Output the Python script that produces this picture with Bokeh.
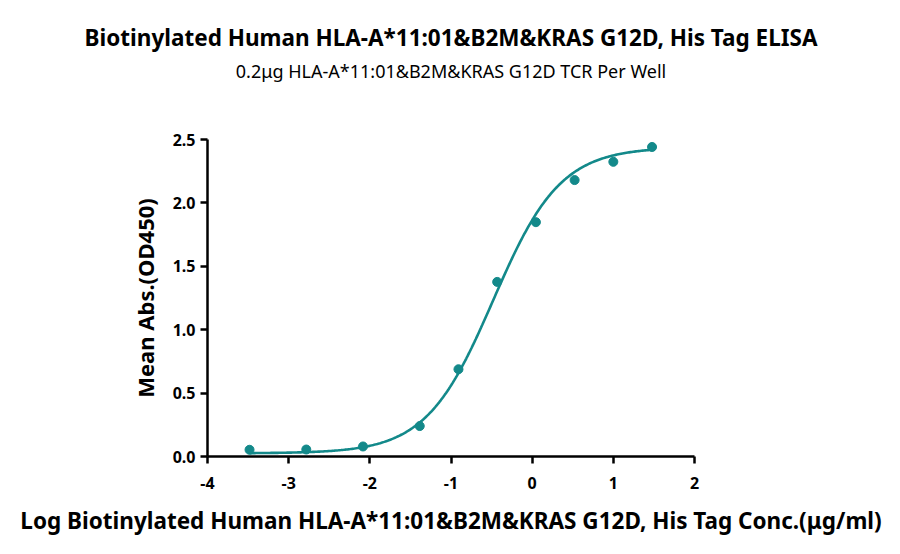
import numpy as np
from bokeh.plotting import figure
from bokeh.models import Title, FixedTicker, PrintfTickFormatter, Range1d
from bokeh.embed import file_html
from bokeh.resources import INLINE

# data
log_conc = [-3.482, -2.783, -2.084, -1.385, -0.908, -0.431, 0.046, 0.523, 1.0, 1.477]
mean_abs = [0.053, 0.055, 0.079, 0.240, 0.688, 1.377, 1.848, 2.180, 2.324, 2.441]
x_ticks = [-4, -3, -2, -1, 0, 1, 2]
y_ticks = [0.0, 0.5, 1.0, 1.5, 2.0, 2.5]

# 4-parameter logistic fit estimated from the drawn curve
BOTTOM = 0.025
TOP = 2.44
LOGEC50 = -0.48
HILL = 1.05

title_text = "Biotinylated Human HLA-A*11:01&B2M&KRAS G12D, His Tag ELISA"
subtitle_text = "0.2\u03bcg HLA-A*11:01&B2M&KRAS G12D TCR Per Well"
x_label = "Log Biotinylated Human HLA-A*11:01&B2M&KRAS G12D, His Tag Conc.(\u03bcg/ml)"
y_label = "Mean Abs.(OD450)"

TEAL = "#13898a"
FONT = "Noto Sans"

W, H = 884, 538
LEFT, TOPB, FW, FH = 207, 139, 487, 319
p = figure(width=W, height=H, output_backend="svg", toolbar_location=None,
           x_range=Range1d(-4, 2), y_range=Range1d(0, 2.5),
           min_border_left=LEFT, min_border_right=W - LEFT - FW,
           min_border_top=TOPB, min_border_bottom=H - TOPB - FH)
p.outline_line_color = None
p.grid.visible = False
p.background_fill_color = "white"
p.border_fill_color = "white"

cx = np.linspace(log_conc[0], log_conc[-1], 300)
cy = BOTTOM + (TOP - BOTTOM) / (1 + 10 ** ((LOGEC50 - cx) * HILL))
p.line(cx, cy, line_color=TEAL, line_width=2.6)
p.scatter(log_conc, mean_abs, size=9, color=TEAL)

for ax in (p.xaxis, p.yaxis):
    ax.axis_line_width = 2.5
    ax.axis_line_color = "black"
    ax.major_tick_line_width = 2.5
    ax.major_tick_line_color = "black"
    ax.major_tick_in = 0
    ax.major_tick_out = 7
    ax.minor_tick_line_color = None
    ax.major_label_text_font = FONT
    ax.major_label_text_font_style = "bold"
    ax.major_label_text_font_size = "16px"
    ax.major_label_text_color = "black"
    ax.axis_label_text_font = FONT
    ax.axis_label_text_font_style = "bold"
    ax.axis_label_text_color = "black"

p.xaxis.ticker = FixedTicker(ticks=x_ticks)
p.yaxis.ticker = FixedTicker(ticks=y_ticks)
p.xaxis.formatter = PrintfTickFormatter(format="%d")
p.yaxis.formatter = PrintfTickFormatter(format="%.1f")
p.xaxis.major_label_standoff = 13
p.yaxis.major_label_standoff = 5
p.xaxis.axis_label = x_label
p.yaxis.axis_label = y_label
p.xaxis.axis_label_text_font_size = "22.5px"
p.yaxis.axis_label_text_font_size = "22px"
p.xaxis.axis_label_standoff = 13
p.yaxis.axis_label_standoff = 10

center_offset = -(W / 2 - LEFT - FW / 2)
# stacked from the plot outward: blank spacer, subtitle, main title
spacer = Title(text=" ", text_font_size="1px", standoff=54)
sub = Title(text=subtitle_text, align="center", text_font=FONT,
            text_font_size="18px", text_font_style="normal", text_color="black",
            standoff=0, offset=center_offset)
main = Title(text=title_text, align="center", text_font=FONT,
             text_font_size="22.5px", text_font_style="bold", text_color="black",
             standoff=7, offset=center_offset)
p.add_layout(spacer, "above")
p.add_layout(sub, "above")
p.add_layout(main, "above")

open("out.html", "w").write(file_html(p, INLINE))
